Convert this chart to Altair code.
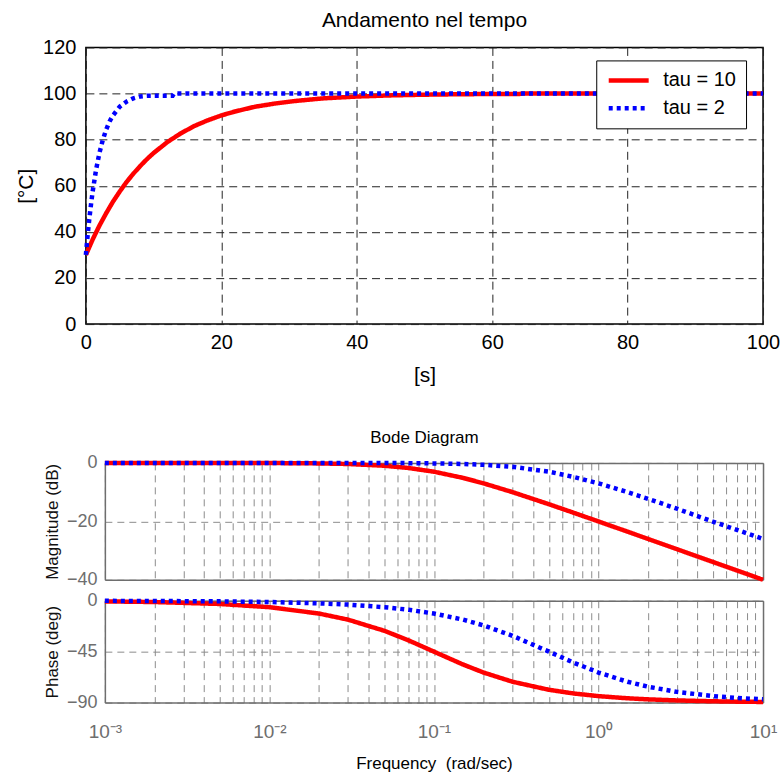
import altair as alt
import pandas as pd

FONT = "Liberation Sans"
GREY = "#6e6e6e"

# ---------------- data: time response ----------------
series = ["tau = 10", "tau = 2"]
colors = ["#ff0000", "#0000ff"]
dashes = [[1, 0], [4, 4]]

t_tau10 = [0, 1, 2, 3, 4, 5, 6, 7, 8, 9, 10, 12, 14, 16, 18, 20, 22, 25, 28, 31,
           35, 40, 45, 50, 55, 60, 64, 64.5, 100]
v_tau10 = [30, 36.7, 42.7, 48.1, 53.1, 57.5, 61.6, 65.2, 68.5, 71.5, 74.2, 78.9,
           82.7, 85.9, 88.4, 90.5, 92.2, 94.3, 95.7, 96.8, 97.9, 98.7, 99.2, 99.5,
           99.7, 99.8, 99.8, 100, 100]
t_tau2 = [0, 0.25, 0.5, 0.75, 1, 1.5, 2, 2.5, 3, 3.5, 4, 5, 6, 7, 8, 9, 12.8, 13, 100]
v_tau2 = [30, 38.3, 45.5, 51.8, 57.5, 66.9, 74.2, 79.9, 84.4, 87.9, 90.5, 94.3,
          96.5, 97.9, 98.7, 99.0, 99.0, 100, 100]

time_ticks = [0, 20, 40, 60, 80, 100]
temp_ticks = [0, 20, 40, 60, 80, 100, 120]

# ---------------- data: Bode ----------------
freq = [0.001, 0.002, 0.005, 0.01, 0.02, 0.03, 0.05, 0.07, 0.1, 0.15, 0.2, 0.3,
        0.5, 0.7, 1, 1.5, 2, 3, 5, 7, 10]
mag_tau10 = [0, 0, -0.01, -0.04, -0.17, -0.37, -0.97, -1.74, -3.01, -5.12, -6.99,
             -10.0, -14.15, -16.99, -20.04, -23.53, -26.03, -29.54, -33.98, -36.9, -40.0]
mag_tau2 = [0, 0, 0, 0, -0.01, -0.02, -0.04, -0.08, -0.17, -0.37, -0.64, -1.34,
            -3.01, -4.75, -6.99, -10.0, -12.3, -15.68, -20.17, -23.0, -26.03]
ph_tau10 = [-0.57, -1.15, -2.86, -5.71, -11.31, -16.7, -26.57, -34.99, -45, -56.31,
            -63.43, -71.57, -78.69, -81.87, -84.29, -86.19, -87.14, -88.09, -88.85,
            -89.18, -89.43]
ph_tau2 = [-0.11, -0.23, -0.57, -1.15, -2.29, -3.43, -5.71, -7.97, -11.31, -16.7,
           -21.8, -30.96, -45, -54.46, -63.43, -71.57, -75.96, -80.54, -84.29,
           -85.91, -87.14]

mag_ticks = [0, -20, -40]
phase_ticks = [0, -45, -90]
freq_grid = [0.001, 0.002, 0.003, 0.004, 0.005, 0.006, 0.007, 0.008, 0.009,
             0.01, 0.02, 0.03, 0.04, 0.05, 0.06, 0.07, 0.08, 0.09,
             0.1, 0.2, 0.3, 0.4, 0.5, 0.6, 0.7, 0.8, 0.9,
             1, 2, 3, 4, 5, 6, 7, 8, 9, 10]
freq_decades = [0.001, 0.01, 0.1, 1, 10]
freq_labels = ["10\u207b\u00b3", "10\u207b\u00b2", "10\u207b\u00b9", "10\u2070", "10\u00b9"]

label_expr = " : ".join(
    f"abs(datum.value - {d}) < {d * 1e-6} ? '{lab}'" for d, lab in zip(freq_decades, freq_labels)
) + " : ''"

color_scale = alt.Scale(domain=series, range=colors)
dash_scale = alt.Scale(domain=series, range=dashes)

# ---------------- top chart ----------------
df_time = pd.DataFrame({
    "t": t_tau10 + t_tau2,
    "T": v_tau10 + v_tau2,
    "s": [series[0]] * len(t_tau10) + [series[1]] * len(t_tau2),
})

legend = alt.Legend(
    title=None, orient="none", legendX=511, legendY=13,
    strokeColor="black", fillColor="white", padding=10,
    labelFont=FONT, labelFontSize=20, labelColor="black", labelOffset=12,
    symbolType="stroke", symbolSize=1600, symbolStrokeWidth=4.5,
    clipHeight=20, rowPadding=8,
)

top = alt.Chart(df_time).mark_line(strokeWidth=4.5, strokeCap="butt").encode(
    x=alt.X("t:Q", scale=alt.Scale(domain=[0, 100], nice=False, zero=False),
            axis=alt.Axis(values=time_ticks, title=["[s]", ""], titleLineHeight=40,
                          grid=True, gridColor="#222", gridDash=[8, 5], gridWidth=1,
                          ticks=False, domain=False, labelFont=FONT, labelFontSize=20,
                          labelColor="black", labelPadding=8, labelFlush=False,
                          titleFont=FONT,
                          titleFontSize=21, titleFontWeight="normal", titleColor="black",
                          titlePadding=12)),
    y=alt.Y("T:Q", scale=alt.Scale(domain=[0, 120], nice=False, zero=False),
            axis=alt.Axis(values=temp_ticks, title="[°C]",
                          grid=True, gridColor="#222", gridDash=[8, 5], gridWidth=1,
                          ticks=False, domain=False, labelFont=FONT, labelFontSize=20,
                          labelColor="black", labelPadding=10, titleFont=FONT,
                          titleFontSize=21, titleFontWeight="normal", titleColor="black",
                          titlePadding=6)),
    color=alt.Color("s:N", scale=color_scale, legend=legend),
    strokeDash=alt.StrokeDash("s:N", scale=dash_scale, legend=legend),
).properties(
    width=678, height=277,
    title=alt.TitleParams("Andamento nel tempo", font=FONT, fontSize=21,
                          fontWeight="normal", color="black", offset=6),
    view=alt.ViewBackground(stroke="black", strokeWidth=1.5),
)


# ---------------- Bode charts ----------------
def bode(field, v10, v2, ydom, yticks, ytitle, height, xlabels, title=None):
    df = pd.DataFrame({
        "w": freq + freq,
        field: v10 + v2,
        "s": [series[0]] * len(freq) + [series[1]] * len(freq),
    })
    base = alt.Chart(df)
    xaxis = alt.Axis(
        values=freq_grid, grid=True, gridColor="#8c8c8c", gridDash=[7, 5], gridWidth=1,
        ticks=False, domainColor=GREY, domainWidth=1.5, labels=xlabels,
        labelExpr=label_expr, labelOverlap=False, labelFont=FONT, labelFontSize=19,
        labelColor=GREY, labelPadding=20, labelFlush=False,
        title="Frequency\u00a0 (rad/sec)" if xlabels else None,
        titleFont=FONT, titleFontSize=17, titleFontWeight="normal", titleColor="black",
        titlePadding=14,
    )
    yaxis = alt.Axis(
        values=yticks, orient="left", offset=-19, grid=True, gridColor="#8c8c8c",
        gridDash=[7, 5], gridWidth=1, ticks=False, domainColor=GREY, domainWidth=1.5,
        labelFont=FONT, labelFontSize=18, labelColor=GREY, labelPadding=8,
        title=ytitle, titleFont=FONT, titleFontSize=17, titleFontWeight="normal",
        titleColor="#111", titlePadding=5,
    )
    lines = base.mark_line(strokeWidth=4.5, strokeCap="butt").encode(
        x=alt.X("w:Q", scale=alt.Scale(type="log", domain=[0.001, 10], range=[19, 678],
                                       nice=False), axis=xaxis),
        y=alt.Y(f"{field}:Q", scale=alt.Scale(domain=ydom, nice=False, zero=False), axis=yaxis),
        color=alt.Color("s:N", scale=color_scale, legend=None),
        strokeDash=alt.StrokeDash("s:N", scale=dash_scale, legend=None),
    )
    frame = base.mark_point(opacity=0).encode(
        x=alt.X("w:Q", axis=alt.Axis(orient="top", labels=False, ticks=False, grid=False,
                                     domainColor=GREY, domainWidth=1.5, title=None)),
        y=alt.Y(f"{field}:Q", axis=alt.Axis(orient="right", labels=False, ticks=False,
                                            grid=False, domainColor=GREY, domainWidth=1.5,
                                            title=None)),
    )
    props = dict(width=678, height=height, view=alt.ViewBackground(stroke=None))
    if title:
        props["title"] = alt.TitleParams(title, font=FONT, fontSize=17, fontWeight="normal",
                                         color="black", offset=7)
    return alt.layer(lines, frame).resolve_axis(x="independent", y="independent").properties(**props)


mag = bode("mag", mag_tau10, mag_tau2, [-40, 0], mag_ticks, "Magnitude (dB)", 117, False,
           title="Bode Diagram")
phase = bode("phase", ph_tau10, ph_tau2, [-90, 0], phase_ticks, "Phase (deg)", 102, True)

chart = alt.vconcat(top, mag, phase, spacing=3).resolve_scale(
    color="independent", strokeDash="independent"
).properties(
    padding={"left": 14, "top": 9, "right": 0, "bottom": 0}
)

chart.save("out.html", embed_options={"renderer": "svg", "actions": False})
